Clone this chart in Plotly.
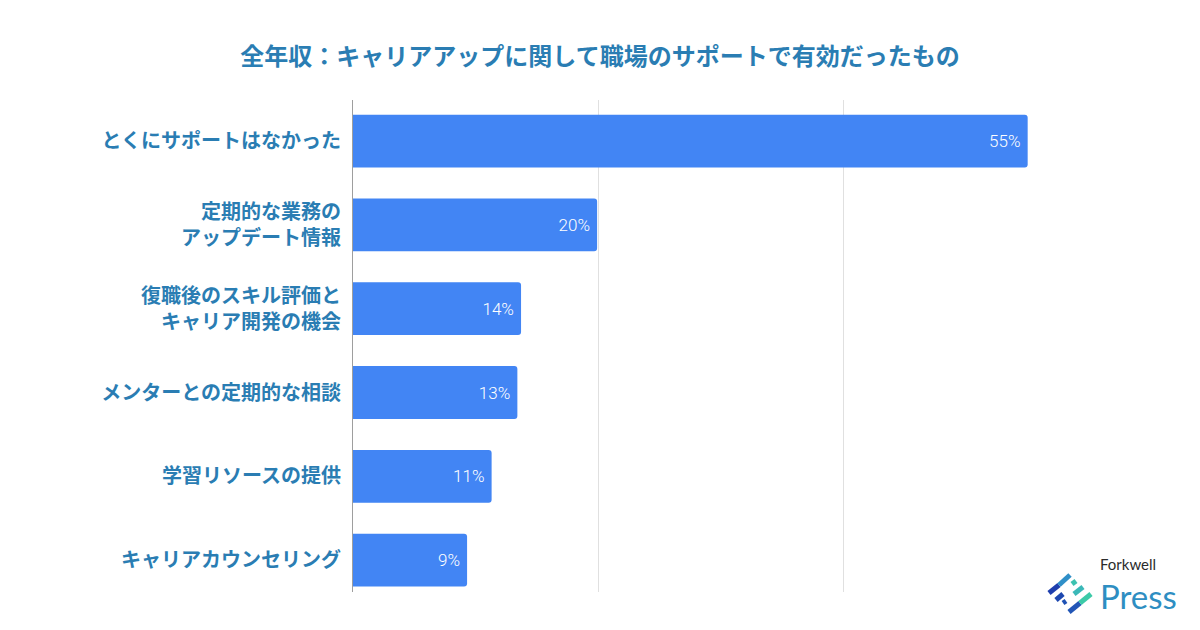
import plotly.graph_objects as go

categories = [
    "とくにサポートはなかった",
    "定期的な業務の<br>アップデート情報",
    "復職後のスキル評価と<br>キャリア開発の機会",
    "メンターとの定期的な相談",
    "学習リソースの提供",
    "キャリアカウンセリング",
]
values = [55.0, 19.9, 13.7, 13.4, 11.3, 9.3]
grid_ticks = [0, 20, 40, 60]

TITLE = "全年収：キャリアアップに関して職場のサポートで有効だったもの"
LABEL_COLOR = "#2a7db3"
BAR_COLOR = "#4285f4"
JP_FONT = "Noto Sans CJK JP"

# page body adds an 8px offset; compensate so the picture lines up
OFF = 8
W, H = 1200, 630
PL, PR, PT, PB = 353 - OFF, 1089 - OFF, 100 - OFF, 592 - OFF

fig = go.Figure(
    go.Bar(
        x=values,
        y=categories,
        orientation="h",
        marker=dict(color=BAR_COLOR, cornerradius=3, line=dict(width=0)),
        width=0.63,
        text=[f"{round(v)}%\u00a0" for v in values],
        textposition="inside",
        insidetextanchor="end",
        textangle=0,
        textfont=dict(family="Roboto", size=17, color="white", weight=300),
        cliponaxis=False,
        hoverinfo="skip",
    )
)

# Forkwell Press logo (decoration), in screen pixels
logo_strokes = [
    ((1049, 593), (1059, 585), "#1f3fae"),
    ((1059, 585), (1070, 575), "#2f8fc8"),
    ((1056, 600), (1063, 594), "#1d48b0"),
    ((1072, 584), (1076, 581), "#3cc2b0"),
    ((1063, 603), (1066, 601), "#1f52b4"),
    ((1074, 594), (1083, 587), "#3bb8b8"),
    ((1069, 612), (1080, 603), "#2256b6"),
    ((1080, 603), (1091, 594), "#3ccaa8"),
]


def px(x):
    return (x - OFF - PL) / (PR - PL)


def py(y):
    return (PB - (y - OFF)) / (PB - PT)


shapes = []
for (x0, y0), (x1, y1), col in logo_strokes:
    shapes.append(dict(
        type="line", xref="paper", yref="paper",
        x0=px(x0), x1=px(x1), y0=py(y0), y1=py(y1),
        line=dict(color=col, width=5),
        layer="above",
    ))

fig.update_layout(
    width=W,
    height=H,
    paper_bgcolor="white",
    plot_bgcolor="white",
    margin=dict(l=PL, r=W - PR, t=PT, b=H - PB, autoexpand=False),
    showlegend=False,
    title=dict(
        text=TITLE,
        x=(600 - OFF) / W, xanchor="center", xref="container",
        y=1 - (57 - OFF) / H, yanchor="middle", yref="container",
        font=dict(family=JP_FONT, size=24, color=LABEL_COLOR, weight="bold"),
    ),
    bargap=0.37,
    xaxis=dict(
        range=[0, 60],
        tickvals=grid_ticks,
        showticklabels=False,
        showgrid=True,
        gridcolor="#e0e0e0",
        gridwidth=1,
        zeroline=False,
        showline=False,
        fixedrange=True,
        automargin=False,
    ),
    yaxis=dict(
        categoryorder="array",
        categoryarray=categories,
        range=[5.38, -0.49],
        tickfont=dict(family=JP_FONT, size=20, color=LABEL_COLOR, weight="bold"),
        ticks="",
        ticklabelstandoff=7,
        showline=True,
        linecolor="#9e9e9e",
        linewidth=1,
        showgrid=False,
        zeroline=False,
        fixedrange=True,
        automargin=False,
    ),
    shapes=shapes,
    annotations=[
        dict(text="Forkwell", xref="paper", yref="paper",
             x=px(1098), y=py(564),
             xanchor="left", yanchor="middle", showarrow=False,
             font=dict(family="Lato", size=15, color="#2b2b2b")),
        dict(text="Press", xref="paper", yref="paper",
             x=px(1098), y=py(596),
             xanchor="left", yanchor="middle", showarrow=False,
             font=dict(family="Lato", size=33, color="#2e8ec2")),
    ],
)

fig.write_html("out.html")
